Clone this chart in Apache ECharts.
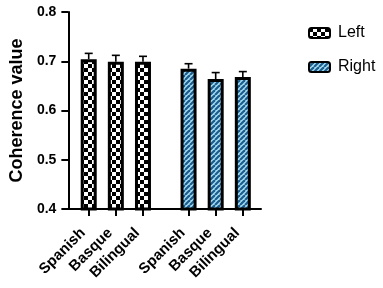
<!DOCTYPE html>
<html>
<head>
<meta charset="utf-8">
<script src="https://cdn.jsdelivr.net/npm/echarts@6/dist/echarts.min.js"></script>
<style>
  html, body { margin: 0; padding: 0; background: #fff; }
  #main { width: 383px; height: 288px; }
</style>
</head>
<body>
<div id="main"></div>
<script>
var groups = ['Spanish', 'Basque', 'Bilingual'];
var leftMean = [0.704, 0.699, 0.699];
var leftErr = [0.012, 0.013, 0.011];
var rightMean = [0.685, 0.664, 0.668];
var rightErr = [0.010, 0.013, 0.011];
var yTicks = [0.4, 0.5, 0.6, 0.7, 0.8];

// bar positions on the x value axis: group of 3, then a wider gap
var groupShift = 3.68;
function pos(side, i) { return 1 + i + side * groupShift; }

// fill patterns
function checker() {
  var c = document.createElement('canvas');
  c.width = 8; c.height = 8;
  var g = c.getContext('2d');
  g.fillStyle = '#fff'; g.fillRect(0, 0, 8, 8);
  g.fillStyle = '#000';
  g.fillRect(0, 0, 4, 4); g.fillRect(4, 4, 4, 4);
  return c;
}
function stripes() {
  var s = 5;
  var c = document.createElement('canvas');
  c.width = s; c.height = s;
  var g = c.getContext('2d');
  g.fillStyle = '#a6dcf0'; g.fillRect(0, 0, s, s);
  g.strokeStyle = '#1b5c8e'; g.lineWidth = 2.2;
  for (var k = -1; k <= 1; k++) {
    g.beginPath();
    g.moveTo(k * s, s); g.lineTo(k * s + s, 0);
    g.stroke();
  }
  return c;
}
var checkFill = { image: checker(), repeat: 'repeat' };
var stripeFill = { image: stripes(), repeat: 'repeat' };

var leftData = leftMean.map(function (v, i) { return [pos(0, i), v]; });
var rightData = rightMean.map(function (v, i) { return [pos(1, i), v]; });
var errData = [];
leftMean.forEach(function (v, i) { errData.push([pos(0, i), v, leftErr[i]]); });
rightMean.forEach(function (v, i) { errData.push([pos(1, i), v, rightErr[i]]); });

var tickPos = leftData.concat(rightData).map(function (d) { return d[0]; });
var tickNames = groups.concat(groups);

var myChart = echarts.init(document.getElementById('main'));
var option = {
  animation: false,
  grid: { left: 60, right: 122, top: 12, bottom: 79 },
  legend: {
    left: 303, top: 20, orient: 'vertical',
    itemWidth: 21, itemHeight: 10, itemGap: 18,
    data: ['Left', 'Right'],
    textStyle: { fontFamily: 'Liberation Sans', fontSize: 16, color: '#000', padding: [0, 0, 0, 3] }
  },
  xAxis: {
    type: 'value', min: 0.25, max: 7.35,
    splitLine: { show: false },
    axisLine: { lineStyle: { color: '#000', width: 2 } },
    axisTick: { customValues: tickPos, length: 7, lineStyle: { color: '#000', width: 2 } },
    axisLabel: {
      customValues: tickPos, rotate: 45, margin: 16, padding: [0, 8, 0, 0],
      fontFamily: 'Liberation Sans', fontWeight: 'bold', fontSize: 15, color: '#000',
      formatter: function (v) {
        for (var i = 0; i < tickPos.length; i++) {
          if (Math.abs(tickPos[i] - v) < 1e-6) return tickNames[i];
        }
        return '';
      }
    }
  },
  yAxis: {
    type: 'value', min: 0.4, max: 0.8, interval: 0.1,
    name: 'Coherence value', nameLocation: 'middle', nameGap: 37,
    nameTextStyle: { fontFamily: 'Liberation Sans', fontWeight: 'bold', fontSize: 18, color: '#000' },
    splitLine: { show: false },
    axisLine: { show: true, lineStyle: { color: '#000', width: 2 } },
    axisTick: { show: true, length: 7, lineStyle: { color: '#000', width: 2 } },
    axisLabel: {
      margin: 12, fontFamily: 'Liberation Sans', fontWeight: 'bold', fontSize: 14, color: '#000',
      formatter: function (v) { return v.toFixed(1); }
    }
  },
  series: [
    {
      name: 'Left', type: 'bar', barWidth: 16, barGap: '-100%',
      itemStyle: { color: checkFill, borderColor: '#000', borderWidth: 3 },
      data: leftData
    },
    {
      name: 'Right', type: 'bar', barWidth: 16, barGap: '-100%',
      itemStyle: { color: stripeFill, borderColor: '#000', borderWidth: 3 },
      data: rightData
    },
    {
      name: 'err', type: 'custom', z: 1,
      data: errData,
      renderItem: function (params, api) {
        var x = api.value(0), v = api.value(1), e = api.value(2);
        var p0 = api.coord([x, v]);
        var p1 = api.coord([x, v + e]);
        return {
          type: 'group',
          children: [
            { type: 'line', shape: { x1: p0[0], y1: p0[1], x2: p1[0], y2: p1[1] },
              style: { stroke: '#000', lineWidth: 1.6 } },
            { type: 'line', shape: { x1: p1[0] - 4, y1: p1[1], x2: p1[0] + 4, y2: p1[1] },
              style: { stroke: '#000', lineWidth: 1.6 } }
          ]
        };
      }
    }
  ]
};
myChart.setOption(option);
</script>
</body>
</html>
